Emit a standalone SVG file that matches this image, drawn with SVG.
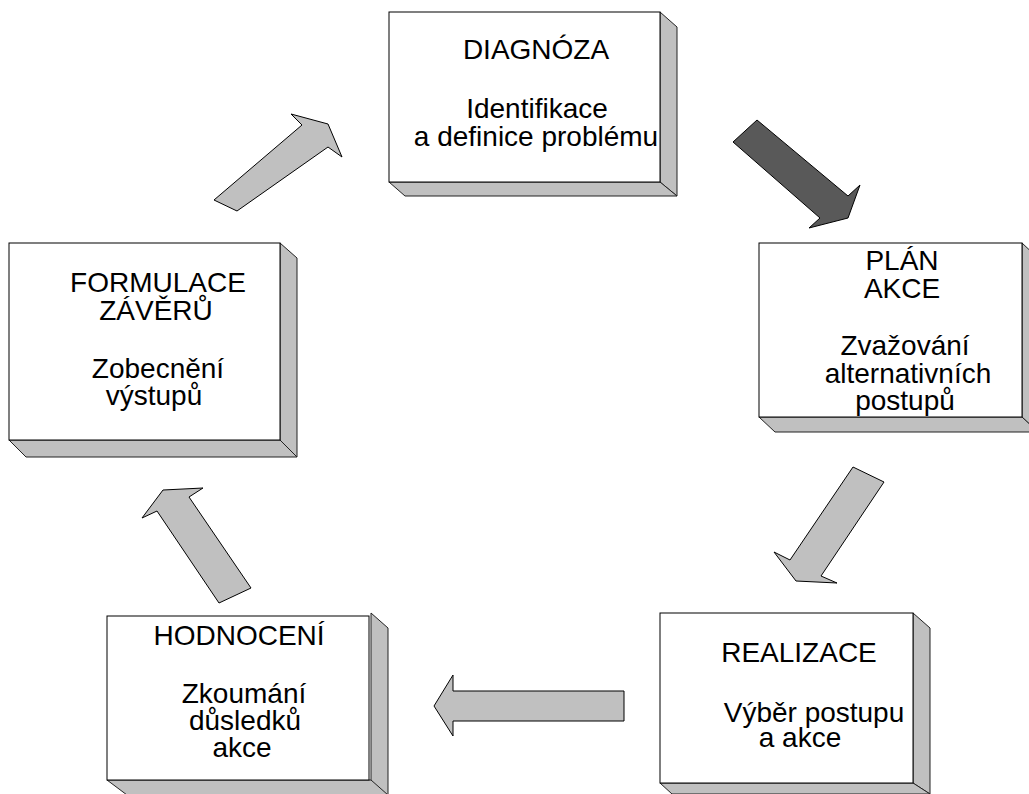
<svg xmlns="http://www.w3.org/2000/svg" width="1029" height="794" viewBox="0 0 1029 794">
<style>
.front{fill:#ffffff;stroke:#000;stroke-width:1}
.side{fill:#c0c0c0;stroke:#222;stroke-width:1;stroke-linejoin:round}
.arrow{fill:#c0c0c0;stroke:#000;stroke-width:1;stroke-linejoin:miter}
.dark{fill:#595959}
text{font-family:"Liberation Sans",Arial,sans-serif;font-size:28px;fill:#000;text-anchor:middle}
</style>
<rect width="1029" height="794" fill="#fff"/>
<g id="connectors">
<polygon class="arrow" points="214,200 302,125 291,114 328,124 342,157 328,147 237,211"/>
<polygon class="arrow dark" points="733,142 757,120 848,196 860,185 848,218 809,228 820,218"/>
<polygon class="arrow" points="853,467 884,482 821,576 837,583 796,581 774,552 790,560"/>
<polygon class="arrow" points="624,691 453,691 453,675 434,706 453,736 453,721 624,721"/>
<polygon class="arrow" points="251,588 189,497 203,488 163,490 142,518 157,511 219,603"/>
</g>
<g id="diagnoza">
<polygon class="side" points="660,12 677,27 677,196 660,182"/>
<polygon class="side" points="389,182 660,182 677,196 405,196"/>
<rect class="front" x="389" y="12" width="271" height="170"/>
<text x="536" y="59">DIAGNÓZA</text>
<text x="537" y="118">Identifikace</text>
<text x="536" y="146">a definice problému</text>
</g>
<g id="plan-akce">
<polygon class="side" points="1022,243 1038,258 1038,432 1022,417"/>
<polygon class="side" points="759,417 1022,417 1038,432 775,432"/>
<rect class="front" x="759" y="243" width="263" height="174"/>
<text x="902" y="270">PLÁN</text>
<text x="902" y="298">AKCE</text>
<text x="905" y="355">Zvažování</text>
<text x="908" y="383">alternativních</text>
<text x="905" y="410">postupů</text>
</g>
<g id="formulace">
<polygon class="side" points="280,243 297,258 297,457 280,440"/>
<polygon class="side" points="9,440 280,440 297,457 26,457"/>
<rect class="front" x="9" y="243" width="271" height="197"/>
<text x="158" y="292">FORMULACE</text>
<text x="156" y="320">ZÁVĚRŮ</text>
<text x="158" y="378">Zobecnění</text>
<text x="154" y="405">výstupů</text>
</g>
<g id="hodnoceni">
<polygon class="side" points="371,613 388,628 388,800 371,790"/>
<polygon class="side" points="107,780 371,780 388,795 127,795"/>
<rect class="front" x="107" y="616" width="262" height="164"/>
<text x="239" y="645">HODNOCENÍ</text>
<text x="244" y="703">Zkoumání</text>
<text x="245" y="730">důsledků</text>
<text x="242" y="757">akce</text>
</g>
<g id="realizace">
<polygon class="side" points="913,613 930,628 930,794 913,783"/>
<polygon class="side" points="660,783 913,783 930,794 672,794"/>
<rect class="front" x="660" y="613" width="253" height="170"/>
<text x="799" y="662">REALIZACE</text>
<text x="814" y="722">Výběr postupu</text>
<text x="800" y="747">a akce</text>
</g>
</svg>
